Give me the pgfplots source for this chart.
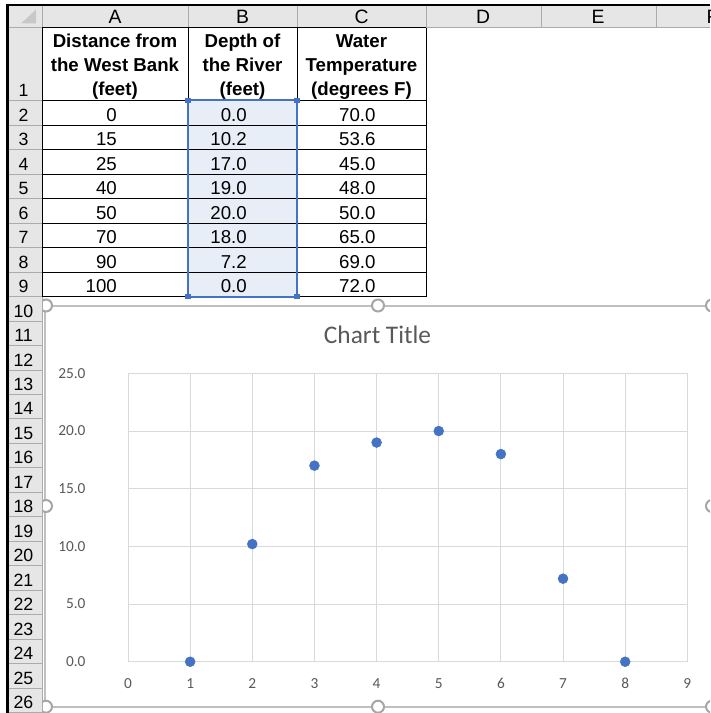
\documentclass[border=0pt]{standalone}
\usepackage{pgfplots}
\pgfplotsset{compat=1.18}
\usepackage{fontspec}
\setmainfont{Liberation Sans}
\newfontfamily\calibri{Carlito}

\definecolor{hdrfill}{HTML}{E6E6E6}
\definecolor{hdrline}{HTML}{ABABAB}
\definecolor{selfill}{HTML}{E8EEF8}
\definecolor{selblue}{HTML}{4472C4}
\definecolor{gridgray}{HTML}{D9D9D9}
\definecolor{txtgray}{HTML}{595959}
\definecolor{chartline}{HTML}{BFBFBF}
\definecolor{handle}{HTML}{A6A6A6}
\definecolor{cornertri}{HTML}{C8C8C8}

\begin{document}
% 1 px of the screenshot = 0.75pt, y runs downwards
\begin{tikzpicture}[x=0.75pt,y=-0.75pt,line width=0.75pt]
\useasboundingbox (0,0) rectangle (710,713);
\begin{scope}
\clip (0,0) rectangle (710,713);
\fill[white] (0,0) rectangle (710,713);

% column header band
\fill[hdrfill] (7,5) rectangle (710,28);
\foreach \x in {42,188,297,426,541,656} \draw[hdrline] (\x,5) -- (\x,28);
\draw[hdrline] (7,28) -- (710,28);
\fill[cornertri] (21,23.5) -- (36,23.5) -- (36,9.5) -- cycle;
\foreach \c/\x in {A/115,B/242.5,C/361.5,D/483,E/598,F/712.5}
  \node[anchor=base,inner sep=0pt,font=\fontsize{14.5}{17}\selectfont] at (\x,23.3) {\c};

% selected range B2:B9
\fill[selfill] (188,101) rectangle (297,296.7);

% header row (row 1)
\begin{scope}[every node/.style={anchor=base,inner sep=0pt,font=\bfseries\fontsize{14}{17}\selectfont}]
\node at (115,48) {Distance from};
\node at (115,71.7) {the West Bank};
\node at (115,95.4) {(feet)};
\node at (242.5,48) {Depth of};
\node at (242.5,71.7) {the River};
\node at (242.5,95.4) {(feet)};
\node at (361.5,48) {Water};
\node at (361.5,71.7) {Temperature};
\node at (361.5,95.4) {(degrees F)};
\end{scope}

% data rows 2-9
\foreach \a/\b/\c [count=\i from 2] in {0/0.0/70.0,15/10.2/53.6,25/17.0/45.0,40/19.0/48.0,50/20.0/50.0,70/18.0/65.0,90/7.2/69.0,100/0.0/72.0}{
  \pgfmathsetmacro{\yb}{101+(\i-1)*24.46-4}
  \begin{scope}[every node/.style={anchor=base east,inner sep=0pt,font=\fontsize{14}{17}\selectfont}]
  \node at (117.3,\yb) {\a};
  \node at (247.3,\yb) {\b};
  \node at (376,\yb) {\c};
  \end{scope}
}

% chart area
\draw[chartline,fill=white,line width=1.5pt] (45,305.5) rectangle (712,706.7);
\node[anchor=base,inner sep=0pt,text=txtgray,font=\calibri\fontsize{19}{22}\selectfont] at (377.5,343.3) {Chart Title};

\begin{axis}[
    at={(96pt,-496.3pt)}, anchor=south west,
    scale only axis,
    width=419.5pt, height=216.3pt,
    xmin=0, xmax=9, ymin=0, ymax=25,
    xtick={0,1,...,9}, ytick={0,5,...,25},
    grid=major,
    major grid style={draw=gridgray,line width=0.75pt},
    axis line style={draw=gridgray,line width=0.75pt},
    major tick length=0pt,
    clip=false,
    /pgf/number format/assume math mode=true,
    tick label style={font=\calibri\fontsize{11.5}{13}\selectfont,text=txtgray},
    xticklabel style={anchor=base,yshift=-19.7pt},
    yticklabel style={anchor=east,inner sep=0pt,xshift=-31.7pt,
        /pgf/number format/fixed,/pgf/number format/fixed zerofill,
        /pgf/number format/precision=1},
]
\addplot[only marks, mark=*, mark size=3.7pt, color=selblue]
    coordinates {(1,0.0)(2,10.2)(3,17.0)(4,19.0)(5,20.0)(6,18.0)(7,7.2)(8,0.0)};
\end{axis}

% chart handles
\foreach \p in {(46,305.5),(378,305.5),(712,305.5),(46,506),(712,506),(46,706.7),(378,706.7),(712,706.7)}
  \draw[handle,fill=white,line width=1.5pt] \p circle[radius=4.5pt];

% row header column
\fill[hdrfill] (7,28) rectangle (42,713);
\draw[hdrline] (42,28) -- (42,713);
\node[anchor=base,inner sep=0pt,font=\fontsize{13.3}{16}\selectfont] at (23.5,96.7) {1};
\draw[hdrline] (7,101) -- (42,101);
\foreach \r in {2,...,26}{
  \pgfmathsetmacro{\yb}{101+(\r-1)*24.46}
  \draw[hdrline] (7,\yb) -- (42,\yb);
  \node[anchor=base,inner sep=0pt,font=\fontsize{13.3}{16}\selectfont] at (23.5,\yb-4) {\r};
}

% table borders A1:C9
\foreach \x in {42,188,297,426} \draw[black] (\x,28) -- (\x,296.7);
\draw[black] (42,28) -- (426,28);
\foreach \r in {1,...,9}{
  \pgfmathsetmacro{\yb}{101+(\r-1)*24.46}
  \draw[black] (42,\yb) -- (426,\yb);
}

% selection outline and handles
\draw[selblue,line width=1.5pt] (188,100.5) rectangle (297,296.7);
\foreach \p in {(188,100.5),(297,100.5),(188,296.7),(297,296.7)}
  \fill[selblue] \p ++(-2.7,-2.7) rectangle ++(5.4,5.4);

% screenshot frame
\draw[black,line width=2pt] (7.5,713) -- (7.5,5) -- (710,5);
\end{scope}
\end{tikzpicture}
\end{document}
